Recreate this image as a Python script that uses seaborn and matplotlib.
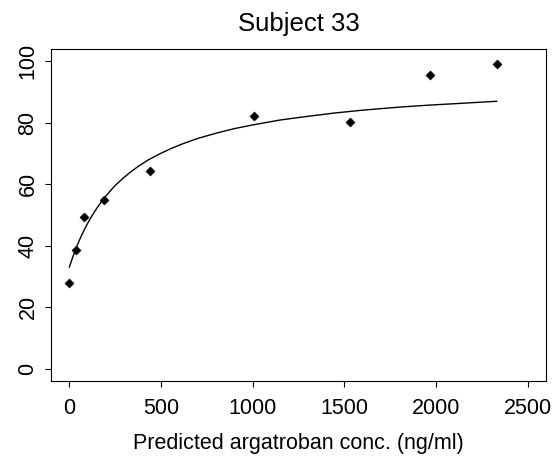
"""Subject 33: effect vs predicted argatroban concentration, with fitted curve."""

import matplotlib
matplotlib.use("Agg")
import matplotlib.pyplot as plt
import pandas as pd
import seaborn as sns

conc_obs = [0, 35, 82, 188, 438, 1008, 1532, 1965, 2332]
effect_obs = [28.0, 38.5, 49.3, 55.0, 64.4, 82.3, 80.2, 95.7, 99.2]

# fitted curve, sampled from the reference line
conc_fit = [0, 10, 20, 40, 55, 70, 85, 100, 120, 140, 160, 190, 220, 250,
            290, 330, 380, 430, 490, 550, 620, 700, 800, 900, 1000, 1150,
            1300, 1450, 1600, 1800, 1950, 2100, 2332]
effect_fit = [33.0, 34.8, 36.5, 39.7, 41.8, 43.8, 45.6, 47.3, 49.4, 51.3,
              53.1, 55.5, 57.6, 59.6, 61.8, 63.8, 66.0, 67.9, 69.8, 71.5,
              73.2, 74.9, 76.6, 78.1, 79.3, 80.9, 82.1, 83.2, 84.1, 85.1,
              85.7, 86.2, 87.0]

x_ticks = [0, 500, 1000, 1500, 2000, 2500]
y_ticks = [0, 20, 40, 60, 80, 100]

sns.set_theme(style="ticks", rc={"text.color": "black", "axes.labelcolor": "black",
                                 "xtick.color": "black", "ytick.color": "black",
                                 "axes.edgecolor": "black"})
plt.rcParams["font.family"] = ["Liberation Sans", "DejaVu Sans"]

obs = pd.DataFrame({"conc": conc_obs, "effect": effect_obs})
fit = pd.DataFrame({"conc": conc_fit, "effect": effect_fit})

fig = plt.figure(figsize=(5.56, 4.58), dpi=100)
ax = fig.add_axes([51 / 556, 1 - 381 / 458, 495 / 556, 332 / 458])

sns.lineplot(data=fit, x="conc", y="effect", color="black", linewidth=1.0,
             estimator=None, ax=ax)
sns.scatterplot(data=obs, x="conc", y="effect", marker="D", s=22,
                color="black", edgecolor="black", linewidth=0.3, ax=ax)

ax.set_xlim(-100, 2600)
ax.set_ylim(-4, 104)
ax.set_xticks(x_ticks)
ax.set_yticks(y_ticks)
ax.set_xticklabels([str(v) for v in x_ticks], fontsize=15.5)
ax.set_yticklabels([str(v) for v in y_ticks], fontsize=15.5, rotation=90, va="center")
ax.tick_params(axis="both", length=4, width=0.8, color="black")
ax.tick_params(axis="x", pad=8)
ax.tick_params(axis="y", pad=5)

for sp in ax.spines.values():
    sp.set_visible(True)
    sp.set_color("black")
    sp.set_linewidth(0.8)

ax.set_xlabel("Predicted argatroban conc. (ng/ml)", fontsize=15.5, labelpad=10)
ax.set_ylabel("")
ax.set_title("Subject 33", fontsize=18.5, pad=13)

fig.savefig("out.png", dpi=100)
